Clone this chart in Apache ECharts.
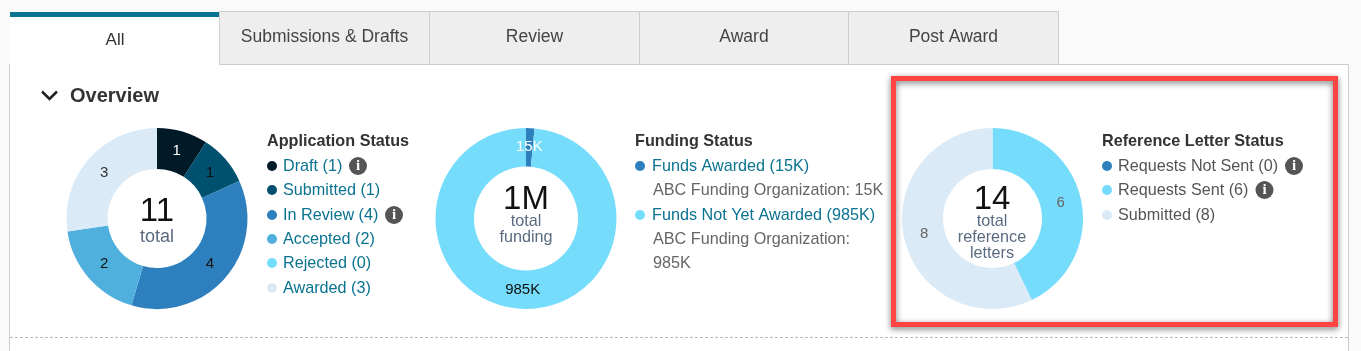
<!DOCTYPE html>
<html>
<head>
<meta charset="utf-8">
<title>Overview</title>
<script src="https://cdn.jsdelivr.net/npm/echarts@6/dist/echarts.min.js"></script>
<style>
  html, body { margin: 0; padding: 0; background: #fafafa; }
  #chart { width: 1361px; height: 351px; }
</style>
</head>
<body>
<div id="chart"></div>
<script>
var tabNames = ["All", "Submissions & Drafts", "Review", "Award", "Post Award"];

var appNames = ["Draft", "Submitted", "In Review", "Accepted", "Rejected", "Awarded"];
var appValues = [1, 1, 4, 2, 0, 3];
var appColors = ["#001a27", "#00506f", "#2d80bd", "#4fb0de", "#75dcfc", "#dbeaf7"];

var fundNames = ["Funds Awarded", "Funds Not Yet Awarded"];
var fundValues = [15, 985];
var fundLabels = ["15K", "985K"];
var fundColors = ["#2d80bd", "#75dcfc"];

var refNames = ["Requests Not Sent", "Requests Sent", "Submitted"];
var refValues = [0, 6, 8];
var refColors = ["#2d80bd", "#75dcfc", "#dbeaf7"];

var FONT = '"Liberation Sans", Arial, sans-serif';
var chart = echarts.init(document.getElementById("chart"));
var g = [];

function text(x, y, str, size, color, align, weight) {
  g.push({
    type: "text", x: x, y: y + 1.5, silent: true,
    style: {
      text: str, fontSize: size, fontFamily: FONT, fill: color,
      align: align || "left", verticalAlign: "middle", fontWeight: weight || "normal"
    }
  });
}
function dot(x, y, color) {
  g.push({ type: "circle", shape: { cx: x, cy: y, r: 5 }, style: { fill: color }, silent: true });
}
function info(x, y) {
  g.push({ type: "circle", shape: { cx: x, cy: y, r: 9 }, style: { fill: "#555555" }, silent: true });
  g.push({
    type: "text", x: x, y: y, silent: true,
    style: { text: "i", fontSize: 15, fontWeight: "bold", fontFamily: '"Liberation Serif", serif', fill: "#fff", align: "center", verticalAlign: "middle" }
  });
}

// panel
g.push({ type: "rect", shape: { x: 9.5, y: 64.5, width: 1339, height: 300 }, style: { fill: "#fff", stroke: "#cccccc" }, silent: true });
g.push({ type: "line", shape: { x1: 10, y1: 337.5, x2: 1349, y2: 337.5 }, style: { stroke: "#bbbbbb", lineDash: [3, 2] }, silent: true });

// tabs
var tabEdges = [10, 219.5, 429.5, 639.5, 848.5, 1058.5];
tabNames.forEach(function (name, i) {
  if (i === 0) {
    g.push({ type: "rect", shape: { x: 10, y: 12, width: 209, height: 53 }, style: { fill: "#fff" }, silent: true });
    g.push({ type: "rect", shape: { x: 10, y: 12, width: 209, height: 5 }, style: { fill: "#0a7390" }, silent: true });
    text(115, 38.5, name, 17, "#333333", "center");
  } else {
    g.push({
      type: "rect",
      shape: { x: tabEdges[i], y: 11.5, width: tabEdges[i + 1] - tabEdges[i], height: 53 },
      style: { fill: "#eeeeee", stroke: "#cccccc" }, silent: true
    });
    text((tabEdges[i] + tabEdges[i + 1]) / 2, 36, name, 17.5, "#444444", "center");
  }
});

// overview heading
g.push({
  type: "polyline", shape: { points: [[42, 91.5], [49.5, 99], [57, 91.5]] },
  style: { stroke: "#222222", lineWidth: 2.5, fill: null }, silent: true
});
text(70, 94.5, "Overview", 20, "#333333", "left", "bold");

// application legend
text(267, 140, "Application Status", 16.2, "#333333", "left", "bold");
var appY = [165, 189, 214, 238, 262, 287];
appNames.forEach(function (name, i) {
  dot(272, appY[i] + 1, appColors[i]);
  text(283, appY[i], name + " (" + appValues[i] + ")", 16.2, "#0a7390");
});
info(358, 166);
info(394, 215);

// funding legend
text(635, 140, "Funding Status", 16.2, "#333333", "left", "bold");
dot(640, 166, fundColors[0]);
text(652, 165, fundNames[0] + " (" + fundLabels[0] + ")", 16.2, "#0a7390");
text(653, 189, "ABC Funding Organization: " + fundLabels[0], 16.2, "#666666");
dot(640, 215, fundColors[1]);
text(652, 214, fundNames[1] + " (" + fundLabels[1] + ")", 16.2, "#0a7390");
text(653, 238, "ABC Funding Organization:", 16.2, "#666666");
text(653, 262, fundLabels[1], 16.2, "#666666");

// reference legend
text(1102, 140, "Reference Letter Status", 16.2, "#333333", "left", "bold");
var refY = [165, 189, 214];
refNames.forEach(function (name, i) {
  dot(1107, refY[i] + 1, refColors[i]);
  text(1118, refY[i], name + " (" + refValues[i] + ")", 16.2, "#555555");
});
info(1294, 166);
info(1264.5, 190);

// center texts
text(157, 210.5, "11", 33, "#111111", "center");
text(157, 236, "total", 18, "#5a6b80", "center");
text(526, 198, "1M", 33, "#111111", "center");
text(526, 220, "total", 16.2, "#5a6b80", "center");
text(526, 236, "funding", 16.2, "#5a6b80", "center");
text(992, 198, "14", 33, "#111111", "center");
text(992, 220, "total", 16.2, "#5a6b80", "center");
text(992, 236, "reference", 16.2, "#5a6b80", "center");
text(992, 252, "letters", 16.2, "#5a6b80", "center");

// red highlight box
g.push({
  type: "rect", shape: { x: 893.5, y: 78.5, width: 442, height: 246 },
  style: { fill: null, stroke: "#ff4444", lineWidth: 5, shadowBlur: 6, shadowColor: "rgba(0,0,0,0.55)", shadowOffsetY: 2 },
  silent: true
});

function pieData(names, values, colors, labelColors) {
  return names.map(function (name, i) {
    return {
      name: name, value: values[i],
      itemStyle: { color: colors[i] },
      label: { color: labelColors[i], show: values[i] > 0 }
    };
  });
}
function pieSeries(cx, inner, data, formatter) {
  return {
    type: "pie", silent: true, animation: false,
    center: [cx, 218.5], radius: [inner, 90.5],
    startAngle: 90, clockwise: true, minAngle: 0,
    stillShowZeroSum: false,
    label: { position: "inside", fontSize: 15, fontFamily: FONT, formatter: formatter || "{c}" },
    labelLine: { show: false },
    // pull the labels a little toward the hole, they sit too far out by default
    labelLayout: function (p) {
      var mx = p.labelRect.x + p.labelRect.width / 2 - cx;
      var my = p.labelRect.y + p.labelRect.height / 2 - 218.5;
      var d = Math.sqrt(mx * mx + my * my);
      return { dx: -mx / d * 3, dy: -my / d * 3 };
    },
    itemStyle: { borderWidth: 0 },
    data: data
  };
}

chart.setOption({
  animation: false,
  backgroundColor: "#fafafa",
  tooltip: { show: false },
  graphic: { elements: g },
  series: [
    pieSeries(157, 49.5, pieData(appNames, appValues, appColors, ["#fff", "#111", "#111", "#111", "#111", "#333"])),
    pieSeries(526, 52, pieData(fundNames, fundValues, fundColors, ["#fff", "#111"]), function (p) {
      return fundLabels[p.dataIndex];
    }),
    pieSeries(992.5, 49.5, pieData(refNames, refValues, refColors, ["#666", "#666", "#666"]))
  ]
});
</script>
</body>
</html>
